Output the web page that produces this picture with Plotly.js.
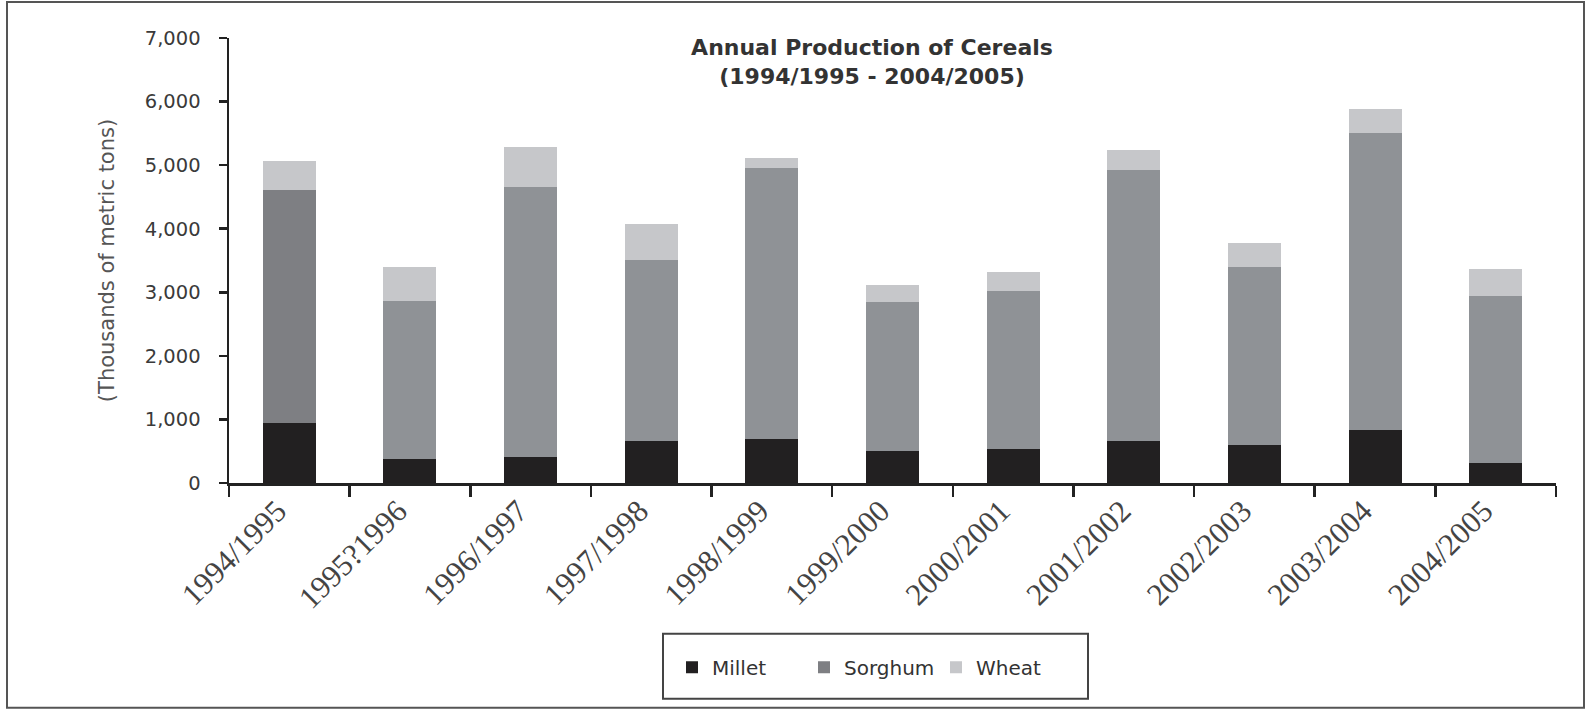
<!DOCTYPE html>
<html>
<head>
<meta charset="utf-8">
<script src="https://cdn.plot.ly/plotly-3.0.1.min.js"></script>
<style>
  html, body { margin: 0; padding: 0; background: #fff; }
  #chart { width: 1586px; height: 710px; }
</style>
</head>
<body>
<div id="chart"></div>
<script>
// ---- Data (thousands of metric tons) ----
const seasons = ["1994/1995", "1995?1996", "1996/1997", "1997/1998", "1998/1999",
                 "1999/2000", "2000/2001", "2001/2002", "2002/2003", "2003/2004", "2004/2005"];
const millet  = [950, 385, 410, 655, 685, 510, 540, 655, 590, 840, 315];
const sorghum = [3665, 2485, 4240, 2855, 4265, 2330, 2485, 4265, 2810, 4670, 2630];
const wheat   = [455, 520, 630, 560, 170, 270, 295, 325, 375, 375, 415];

// ---- Layout geometry (pixels) ----
const W = 1586, H = 710;
const L = 229, R = 1556, T = 38.4, B = 483.3;
const px2x = px => (px - L) / (R - L);
const py2y = py => (B - py) / (B - T);

const sorghumColors = seasons.map((s, i) => i === 0 ? "#7e7f83" : "#8f9296");

const barWidth = 0.44;
const traces = [
  { type: "bar", name: "Millet", x: seasons, y: millet, width: barWidth,
    marker: { color: "#222021" } },
  { type: "bar", name: "Sorghum", x: seasons, y: sorghum, width: barWidth,
    marker: { color: sorghumColors } },
  { type: "bar", name: "Wheat", x: seasons, y: wheat, width: barWidth,
    marker: { color: "#c6c7ca" } }
];

const titleFont = { family: "DejaVu Sans, sans-serif", size: 22, color: "#333333" };

const layout = {
  width: W, height: H,
  paper_bgcolor: "#ffffff", plot_bgcolor: "#ffffff",
  margin: { l: L, r: W - R, t: T, b: H - B, pad: 0 },
  barmode: "stack",
  showlegend: true,
  font: { family: "DejaVu Sans, sans-serif", color: "#333333" },
  title: {
    text: "<b>Annual Production of Cereals</b><br><b>(1994/1995 - 2004/2005)</b>",
    font: titleFont,
    xref: "container", yref: "container",
    x: 872 / W, xanchor: "center",
    y: 1 - 55 / H, yanchor: "top"
  },
  xaxis: {
    type: "category",
    range: [-0.5, seasons.length - 0.5],
    tickson: "boundaries",
    ticks: "outside", ticklen: 11, tickwidth: 2.5, tickcolor: "#222",
    showline: true, linewidth: 2.5, linecolor: "#222",
    showgrid: false, zeroline: false,
    tickangle: -45,
    ticklabelshift: -12,
    ticklabelstandoff: -5,
    tickfont: { family: "Liberation Serif, serif", size: 31, color: "#444" },
    fixedrange: true
  },
  yaxis: {
    range: [0, 7000], dtick: 1000, tick0: 0,
    tickformat: ",d",
    ticks: "outside", ticklen: 8, tickwidth: 2.5, tickcolor: "#222",
    showline: true, linewidth: 2.5, linecolor: "#222",
    showgrid: false, zeroline: false,
    ticklabelstandoff: 14,
    tickfont: { family: "DejaVu Sans, sans-serif", size: 19.5, color: "#3a3a3a" },
    title: { text: "(Thousands of metric tons)", standoff: 25,
             font: { family: "DejaVu Sans, sans-serif", size: 21, color: "#555" } },
    fixedrange: true
  },
  legend: {
    orientation: "h",
    x: px2x(672), xanchor: "left",
    y: py2y(648), yanchor: "top",
    entrywidthmode: "pixels", entrywidth: 87,
    bgcolor: "rgba(0,0,0,0)", borderwidth: 0,
    font: { family: "DejaVu Sans, sans-serif", size: 20, color: "#333" },
    traceorder: "normal"
  },
  shapes: [
    { type: "rect", xref: "paper", yref: "paper",
      x0: px2x(663), x1: px2x(1088), y0: py2y(634), y1: py2y(699),
      line: { color: "#444", width: 2 }, fillcolor: "rgba(0,0,0,0)", layer: "above" },
    { type: "rect", xref: "paper", yref: "paper",
      x0: px2x(7), x1: px2x(1584), y0: py2y(2.5), y1: py2y(708),
      line: { color: "#555", width: 2 }, fillcolor: "rgba(0,0,0,0)", layer: "above" }
  ]
};

Plotly.newPlot("chart", traces, layout, { displayModeBar: false, staticPlot: true });
</script>
</body>
</html>
